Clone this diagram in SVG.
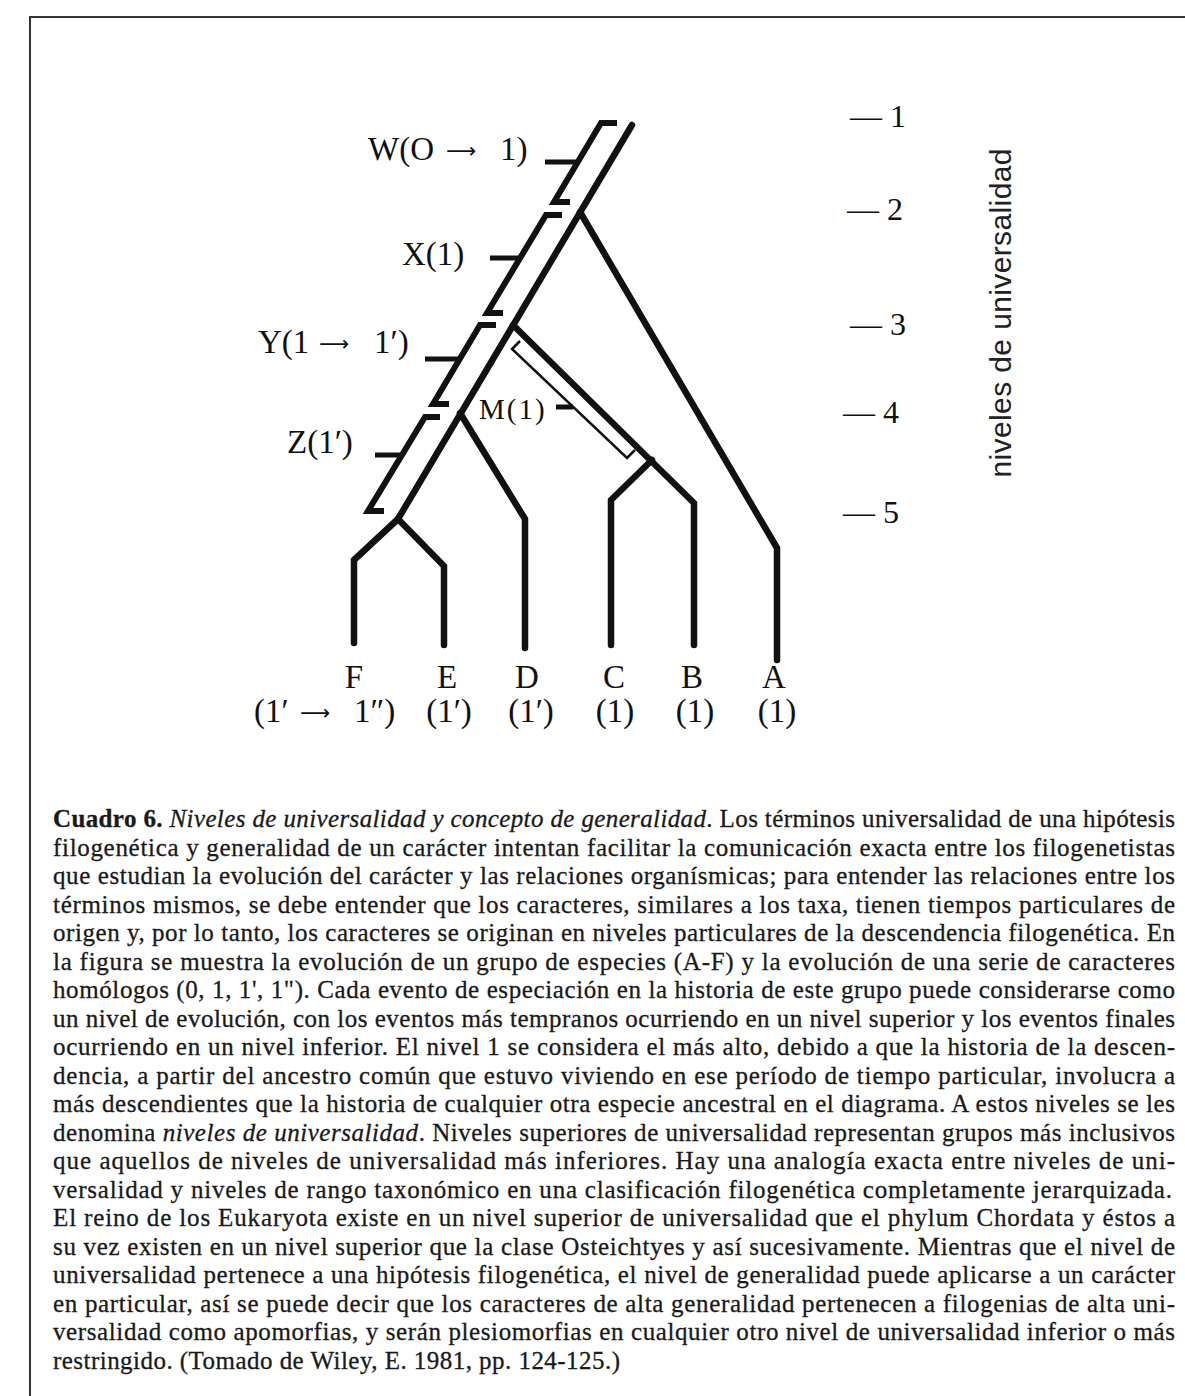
<svg xmlns="http://www.w3.org/2000/svg" width="1185" height="1396" viewBox="0 0 1185 1396">
<style>
.br{fill:none;stroke:#111;stroke-width:6.5;stroke-linecap:round;stroke-linejoin:miter}
.bar{fill:none;stroke:#111;stroke-width:6;stroke-linecap:butt;stroke-linejoin:miter}
.tick{fill:none;stroke:#111;stroke-width:5}
.thin{fill:none;stroke:#111;stroke-width:2.5;stroke-linejoin:miter}
.t{font-family:"Liberation Serif","Times New Roman",serif;font-size:33px;fill:#111}
.ar{font-family:"DejaVu Sans",sans-serif;font-size:21px}
.num{font-family:"Liberation Serif","Times New Roman",serif;font-size:32px;fill:#111}
.cap{font-family:"Liberation Serif","Times New Roman",serif;font-size:25px;fill:#1a1a1a;stroke:#1a1a1a;stroke-width:0.3}
.sans{font-family:"Liberation Sans",Arial,sans-serif;font-size:30px;fill:#222}
</style>
<rect width="1185" height="1396" fill="#fff"/>
<path d="M30 1396 V17 H1185" fill="none" stroke="#333" stroke-width="2"/>

<g id="connectors">
  <path class="br" d="M632 125 L398 519"/>
  <path class="br" d="M580 212 L777 548 V660"/>
  <path class="br" d="M513 325 L694 503 V645"/>
  <path class="br" d="M652 460 L611 500 V645"/>
  <path class="br" d="M460 413 L525 519 V648"/>
  <path class="br" d="M398 519 L354 560 V643"/>
  <path class="br" d="M398 519 L444 566 V645"/>
</g>

<g id="character-W">
  <path class="bar" d="M617 123 H601 L554 202 H570"/>
  <path class="tick" d="M545 162 H578"/>
  <text class="t" y="160"><tspan x="368">W(O</tspan><tspan class="ar" x="446" dy="-2">⟶</tspan><tspan x="500" dy="2">1)</tspan></text>
</g>
<g id="character-X">
  <path class="bar" d="M562 215 H546 L487 313 H503"/>
  <path class="tick" d="M490 258 H520"/>
  <text class="t" x="402" y="265">X(1)</text>
</g>
<g id="character-Y">
  <path class="bar" d="M496 325 H480 L433 404 H449"/>
  <path class="tick" d="M425 359 H460"/>
  <text class="t" y="353"><tspan x="258">Y(1</tspan><tspan class="ar" x="319" dy="-2">⟶</tspan><tspan x="374" dy="2">1′)</tspan></text>
</g>
<g id="character-Z">
  <path class="bar" d="M440 417 H425 L368 511 H384"/>
  <path class="tick" d="M375 455 H402"/>
  <text class="t" x="287" y="453">Z(1′)</text>
</g>
<g id="character-M">
  <path class="thin" d="M520 341 L512 349 L627 458 L635 450"/>
  <path class="tick" d="M556 407 H573"/>
  <text class="t" x="479" y="419" style="font-size:29px;letter-spacing:2px">M(1)</text>
</g>

<g id="taxon-F"><text class="t" x="354" y="688" text-anchor="middle">F</text>
  <text class="t" y="722"><tspan x="254">(1′</tspan><tspan class="ar" x="300" dy="-2">⟶</tspan><tspan x="354" dy="2">1″)</tspan></text></g>
<g id="taxon-E"><text class="t" x="447" y="688" text-anchor="middle">E</text><text class="t" x="449" y="722" text-anchor="middle">(1′)</text></g>
<g id="taxon-D"><text class="t" x="527" y="688" text-anchor="middle">D</text><text class="t" x="531" y="722" text-anchor="middle">(1′)</text></g>
<g id="taxon-C"><text class="t" x="614" y="688" text-anchor="middle">C</text><text class="t" x="615" y="722" text-anchor="middle">(1)</text></g>
<g id="taxon-B"><text class="t" x="692" y="688" text-anchor="middle">B</text><text class="t" x="695" y="722" text-anchor="middle">(1)</text></g>
<g id="taxon-A"><text class="t" x="774" y="688" text-anchor="middle">A</text><text class="t" x="777" y="722" text-anchor="middle">(1)</text></g>

<g id="scale">
  <text class="num" x="850" y="127">— 1</text>
  <text class="num" x="847" y="220">— 2</text>
  <text class="num" x="850" y="335">— 3</text>
  <text class="num" x="843" y="423">— 4</text>
  <text class="num" x="843" y="523">— 5</text>
  <text class="sans" transform="translate(1011,313) rotate(-90)" text-anchor="middle" textLength="329" lengthAdjust="spacing">niveles de universalidad</text>
</g>

<g id="caption" class="cap">
  <text x="53" y="827" textLength="1122" lengthAdjust="spacing"><tspan font-weight="bold">Cuadro 6.</tspan> <tspan font-style="italic">Niveles de universalidad y concepto de generalidad</tspan>. Los términos universalidad de una hipótesis</text>
  <text x="53" y="855.5" textLength="1122" lengthAdjust="spacing">filogenética y generalidad de un carácter intentan facilitar la comunicación exacta entre los filogenetistas</text>
  <text x="53" y="884" textLength="1122" lengthAdjust="spacing">que estudian la evolución del carácter y las relaciones organísmicas; para entender las relaciones entre los</text>
  <text x="53" y="912.5" textLength="1122" lengthAdjust="spacing">términos mismos, se debe entender que los caracteres, similares a los taxa, tienen tiempos particulares de</text>
  <text x="53" y="941" textLength="1122" lengthAdjust="spacing">origen y, por lo tanto, los caracteres se originan en niveles particulares de la descendencia filogenética. En</text>
  <text x="53" y="969.5" textLength="1122" lengthAdjust="spacing">la figura se muestra la evolución de un grupo de especies (A-F) y la evolución de una serie de caracteres</text>
  <text x="53" y="998" textLength="1122" lengthAdjust="spacing">homólogos (0, 1, 1', 1"). Cada evento de especiación en la historia de este grupo puede considerarse como</text>
  <text x="53" y="1026.5" textLength="1122" lengthAdjust="spacing">un nivel de evolución, con los eventos más tempranos ocurriendo en un nivel superior y los eventos finales</text>
  <text x="53" y="1055" textLength="1122" lengthAdjust="spacing">ocurriendo en un nivel inferior. El nivel 1 se considera el más alto, debido a que la historia de la descen-</text>
  <text x="53" y="1083.5" textLength="1122" lengthAdjust="spacing">dencia, a partir del ancestro común que estuvo viviendo en ese período de tiempo particular, involucra a</text>
  <text x="53" y="1112" textLength="1122" lengthAdjust="spacing">más descendientes que la historia de cualquier otra especie ancestral en el diagrama. A estos niveles se les</text>
  <text x="53" y="1140.5" textLength="1122" lengthAdjust="spacing">denomina <tspan font-style="italic">niveles de universalidad</tspan>. Niveles superiores de universalidad representan grupos más inclusivos</text>
  <text x="53" y="1169" textLength="1122" lengthAdjust="spacing">que aquellos de niveles de universalidad más inferiores. Hay una analogía exacta entre niveles de uni-</text>
  <text x="53" y="1197.5" textLength="1119" lengthAdjust="spacing">versalidad y niveles de rango taxonómico en una clasificación filogenética completamente jerarquizada.</text>
  <text x="53" y="1226" textLength="1122" lengthAdjust="spacing">El reino de los Eukaryota existe en un nivel superior de universalidad que el phylum Chordata y éstos a</text>
  <text x="53" y="1254.5" textLength="1122" lengthAdjust="spacing">su vez existen en un nivel superior que la clase Osteichtyes y así sucesivamente. Mientras que el nivel de</text>
  <text x="53" y="1283" textLength="1122" lengthAdjust="spacing">universalidad pertenece a una hipótesis filogenética, el nivel de generalidad puede aplicarse a un carácter</text>
  <text x="53" y="1311.5" textLength="1122" lengthAdjust="spacing">en particular, así se puede decir que los caracteres de alta generalidad pertenecen a filogenias de alta uni-</text>
  <text x="53" y="1340" textLength="1122" lengthAdjust="spacing">versalidad como apomorfias, y serán plesiomorfias en cualquier otro nivel de universalidad inferior o más</text>
  <text x="53" y="1368.5" textLength="567" lengthAdjust="spacing">restringido. (Tomado de Wiley, E. 1981, pp. 124-125.)</text>
</g>
</svg>
